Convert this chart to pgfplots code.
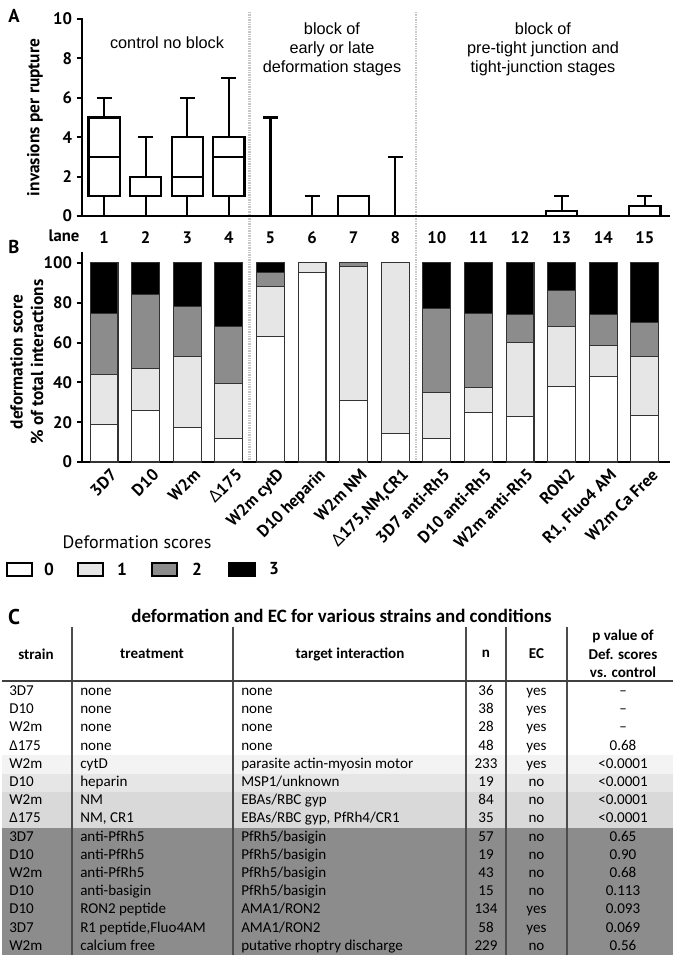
\documentclass[border=0pt]{standalone}
\usepackage{pgfplots}
\pgfplotsset{compat=1.18}
\usepgfplotslibrary{statistics}
\usepackage{pgfplotstable}
\usepackage{fontspec}
\setmainfont{PT Sans}
\newfontfamily\lib{Liberation Sans}
\newfontfamily\carl{Carlito}
\newfontfamily\grk{Noto Sans}
\definecolor{sc1}{HTML}{E6E6E6}
\definecolor{sc2}{HTML}{8C8C8C}
\definecolor{rowA}{HTML}{F3F3F3}
\definecolor{rowB}{HTML}{E6E6E6}
\definecolor{rowC}{HTML}{D9D9D9}
\definecolor{rowD}{HTML}{8C8C8C}
\definecolor{sepc}{HTML}{C6C6C6}

\pgfplotstableread{
x s0 s1 s2 s3
1 19 25 30.5 25.5
2 26 21 37 16
3 17.5 35.5 25 22
4 12 27.5 28.5 32
5 63 25 7 5
6 95 5 0 0
7 31 67 2 0
8 14.5 85.5 0 0
9 12 23 42 23
10 25 12.5 37 25.5
11 23 37 14 26
12 38 30 18 14
13 43 15.5 15.5 26
14 23.5 29.5 17 30
}\defdata

\newcommand{\chartfont}{\bfseries\fontsize{12.5}{15}\selectfont}
\newcommand{\trow}[7]{%
  \pgfmathsetmacro{\yy}{690.7+(#1-1)*18.2+4.8}%
  \node[anchor=base west] at (9,\yy) {#2};
  \node[anchor=base west] at (80,\yy) {#3};
  \node[anchor=base west] at (241,\yy) {#4};
  \node[anchor=base] at (486,\yy) {#5};
  \node[anchor=base] at (536.5,\yy) {#6};
  \node[anchor=base] at (623,\yy) {#7};
}

\begin{document}
\begin{tikzpicture}
\useasboundingbox (0pt,0pt) rectangle (510pt,-719.25pt);
% separators
\draw[sepc, line width=2.2pt, dash pattern=on 1pt off 0.8pt] (187.2pt,-9pt) -- (187.2pt,-346.5pt);
\draw[sepc, line width=2.2pt, dash pattern=on 1pt off 0.8pt] (312pt,-9pt) -- (312pt,-346.5pt);

% ---------------- Panel A
\begin{axis}[
 at={(61.5pt,-162pt)}, anchor=south west,
 scale only axis, width=440.25pt, height=147.75pt,
 xmin=0.47, xmax=14.58, ymin=0, ymax=10,
 axis lines*=left, axis line style={line width=2pt, line cap=rect},
 ytick={0,2,...,10},
 xtick={1,...,14}, xticklabels={1,2,3,4,5,6,7,8,10,11,12,13,14,15},
 x tick style={draw=none},
 y tick style={line width=1.6pt, black},
 tick align=outside, major tick length=4pt,
 ticklabel style={font=\chartfont},
 xticklabel style={yshift=-4pt},
 /pgf/number format/assume math mode=true,
 ylabel={invasions per rupture},
 ylabel style={font=\bfseries\fontsize{13}{15}\selectfont, at={(axis description cs:-0.080,0.5)}, anchor=center},
 boxplot/draw direction=y,
 clip=false,
]
\addplot[black, line width=1.6pt, boxplot prepared={draw position=1, lower whisker=0, lower quartile=1, median=3, upper quartile=5, upper whisker=6, box extend=0.75, whisker extend=0.36}] coordinates {};
\addplot[black, line width=1.6pt, boxplot prepared={draw position=2, lower whisker=0, lower quartile=1, median=1, upper quartile=2, upper whisker=4, box extend=0.75, whisker extend=0.36}] coordinates {};
\addplot[black, line width=1.6pt, boxplot prepared={draw position=3, lower whisker=0, lower quartile=1, median=2, upper quartile=4, upper whisker=6, box extend=0.75, whisker extend=0.36}] coordinates {};
\addplot[black, line width=1.6pt, boxplot prepared={draw position=4, lower whisker=0, lower quartile=1, median=3, upper quartile=4, upper whisker=7, box extend=0.75, whisker extend=0.36}] coordinates {};
\addplot[black, line width=1.6pt, boxplot prepared={draw position=5, lower whisker=0, lower quartile=0, median=0, upper quartile=0, upper whisker=5, box extend=0.75, whisker extend=0.36}] coordinates {};
\addplot[black, line width=1.6pt, boxplot prepared={draw position=6, lower whisker=0, lower quartile=0, median=0, upper quartile=0, upper whisker=1, box extend=0.75, whisker extend=0.36}] coordinates {};
\addplot[black, line width=1.6pt, boxplot prepared={draw position=7, lower whisker=0, lower quartile=0, median=0, upper quartile=1, upper whisker=1, box extend=0.75, whisker extend=0.36}] coordinates {};
\addplot[black, line width=1.6pt, boxplot prepared={draw position=8, lower whisker=0, lower quartile=0, median=0, upper quartile=0, upper whisker=3, box extend=0.75, whisker extend=0.36}] coordinates {};
\addplot[black, line width=1.6pt, boxplot prepared={draw position=9, lower whisker=0, lower quartile=0, median=0, upper quartile=0, upper whisker=0, box extend=0.75, whisker extend=0.36}] coordinates {};
\addplot[black, line width=1.6pt, boxplot prepared={draw position=10, lower whisker=0, lower quartile=0, median=0, upper quartile=0, upper whisker=0, box extend=0.75, whisker extend=0.36}] coordinates {};
\addplot[black, line width=1.6pt, boxplot prepared={draw position=11, lower whisker=0, lower quartile=0, median=0, upper quartile=0, upper whisker=0, box extend=0.75, whisker extend=0.36}] coordinates {};
\addplot[black, line width=1.6pt, boxplot prepared={draw position=12, lower whisker=0, lower quartile=0, median=0, upper quartile=0.25, upper whisker=1, box extend=0.75, whisker extend=0.36}] coordinates {};
\addplot[black, line width=1.6pt, boxplot prepared={draw position=13, lower whisker=0, lower quartile=0, median=0, upper quartile=0, upper whisker=0, box extend=0.75, whisker extend=0.36}] coordinates {};
\addplot[black, line width=1.6pt, boxplot prepared={draw position=14, lower whisker=0, lower quartile=0, median=0, upper quartile=0.5, upper whisker=1, box extend=0.75, whisker extend=0.36}] coordinates {};
\end{axis}

% ---------------- Panel B
\begin{axis}[
 at={(61.5pt,-346.5pt)}, anchor=south west,
 scale only axis, width=440.25pt, height=156.75pt,
 xmin=0.47, xmax=14.58, ymin=0, ymax=105,
 ybar stacked, bar width=0.67,
 axis lines*=left, axis line style={line width=2pt, line cap=rect},
 ytick={0,20,...,100},
 xtick={1,...,14},
 xticklabels={3D7,D10,W2m,{\grk Δ}175,W2m cytD,D10 heparin,W2m NM,{{\grk Δ}175,NM,CR1},3D7 anti-Rh5,D10 anti-Rh5,W2m anti-Rh5,RON2,{R1, Fluo4 AM},W2m Ca Free},
 x tick style={draw=none},
 y tick style={line width=1.6pt, black},
 tick align=outside, major tick length=4pt,
 ticklabel style={font=\chartfont},
 xticklabel style={rotate=45, anchor=north east, xshift=4pt, yshift=-2pt, inner sep=1pt},
 /pgf/number format/assume math mode=true,
 ylabel={deformation score\\\% of total interactions},
 ylabel style={font=\bfseries\fontsize{13}{15.5}\selectfont, align=center, at={(axis description cs:-0.094,0.478)}, anchor=center},
 clip=false,
]
\addplot[fill=white, draw=black!80, line width=0.8pt] table[x=x,y=s0]{\defdata};
\addplot[fill=sc1, draw=black!80, line width=0.8pt] table[x=x,y=s1]{\defdata};
\addplot[fill=sc2, draw=black!80, line width=0.8pt] table[x=x,y=s2]{\defdata};
\addplot[fill=black, draw=black!80, line width=0.8pt] table[x=x,y=s3]{\defdata};
\end{axis}

\begin{scope}[x=0.75pt, y=-0.75pt]
% panel letters
\node[font=\bfseries\fontsize{14}{16}\selectfont] at (14,16) {A};
\node[font=\bfseries\fontsize{14}{16}\selectfont] at (14,247) {B};
\node[font=\bfseries\fontsize{16}{18}\selectfont] at (14,617) {C};
% lane
\node[font=\chartfont] at (64,236) {lane};
% annotations
\node[font=\lib\fontsize{12.2}{14.1}\selectfont] at (167,43) {control no block};
\node[font=\lib\fontsize{12.2}{14.1}\selectfont, align=center] at (332,49.3) {block of\\early or late\\deformation stages};
\node[font=\lib\fontsize{12.2}{14.1}\selectfont, align=center] at (543,49.3) {block of\\pre-tight junction and\\tight-junction stages};
% legend
\node[font=\fontsize{13.5}{16}\selectfont] at (137,542) {Deformation scores};
\draw[black, line width=0.8pt, fill=white] (7,563) rectangle (32,576);
\draw[black, line width=0.8pt, fill=sc1] (78,563) rectangle (103,576);
\draw[black, line width=0.8pt, fill=sc2] (152,563) rectangle (177,576);
\draw[black, line width=0.8pt, fill=black] (229,563) rectangle (255,576);
\node[font=\bfseries\fontsize{13}{15}\selectfont] at (49,569) {0};
\node[font=\bfseries\fontsize{13}{15}\selectfont] at (122,569) {1};
\node[font=\bfseries\fontsize{13}{15}\selectfont] at (197,569) {2};
\node[font=\bfseries\fontsize{13}{15}\selectfont] at (274,569) {3};

% table
\fill[rowA] (2,755.3) rectangle (673,773.5);
\fill[rowB] (2,773.5) rectangle (673,791.7);
\fill[rowC] (2,791.7) rectangle (673,828.1);
\fill[rowD] (2,828.1) rectangle (673,955);
\foreach \xx in {72,233,466,506,567} \draw[black!70, line width=0.8pt] (\xx,627) -- (\xx,955);
\draw[black!75, line width=1.1pt] (2,681) -- (673,681);
\node[font=\carl\bfseries\fontsize{14.2}{16}\selectfont] at (341.5,616) {deformation and EC for various strains and conditions};
\begin{scope}[every node/.style={font=\carl\bfseries\fontsize{11.3}{13.9}\selectfont}]
\node at (36,654) {strain};
\node at (152,654) {treatment};
\node at (350,654) {target interaction};
\node at (486,654) {n};
\node at (536.5,654) {EC};
\node[align=center] at (623,654) {p value of\\Def. scores\\vs. control};
\end{scope}
\begin{scope}[every node/.style={font=\carl\fontsize{11.3}{13.6}\selectfont, inner sep=0pt}]
\trow{1}{3D7}{none}{none}{36}{yes}{–}
\trow{2}{D10}{none}{none}{38}{yes}{–}
\trow{3}{W2m}{none}{none}{28}{yes}{–}
\trow{4}{Δ175}{none}{none}{48}{yes}{0.68}
\trow{5}{W2m}{cytD}{parasite actin-myosin motor}{233}{yes}{<0.0001}
\trow{6}{D10}{heparin}{MSP1/unknown}{19}{no}{<0.0001}
\trow{7}{W2m}{NM}{EBAs/RBC gyp}{84}{no}{<0.0001}
\trow{8}{Δ175}{NM, CR1}{EBAs/RBC gyp, PfRh4/CR1}{35}{no}{<0.0001}
\trow{9}{3D7}{anti-PfRh5}{PfRh5/basigin}{57}{no}{0.65}
\trow{10}{D10}{anti-PfRh5}{PfRh5/basigin}{19}{no}{0.90}
\trow{11}{W2m}{anti-PfRh5}{PfRh5/basigin}{43}{no}{0.68}
\trow{12}{D10}{anti-basigin}{PfRh5/basigin}{15}{no}{0.113}
\trow{13}{D10}{RON2 peptide}{AMA1/RON2}{134}{yes}{0.093}
\trow{14}{3D7}{R1 peptide,Fluo4AM}{AMA1/RON2}{58}{yes}{0.069}
\trow{15}{W2m}{calcium free}{putative rhoptry discharge}{229}{no}{0.56}
\end{scope}
\end{scope}
\end{tikzpicture}
\end{document}
